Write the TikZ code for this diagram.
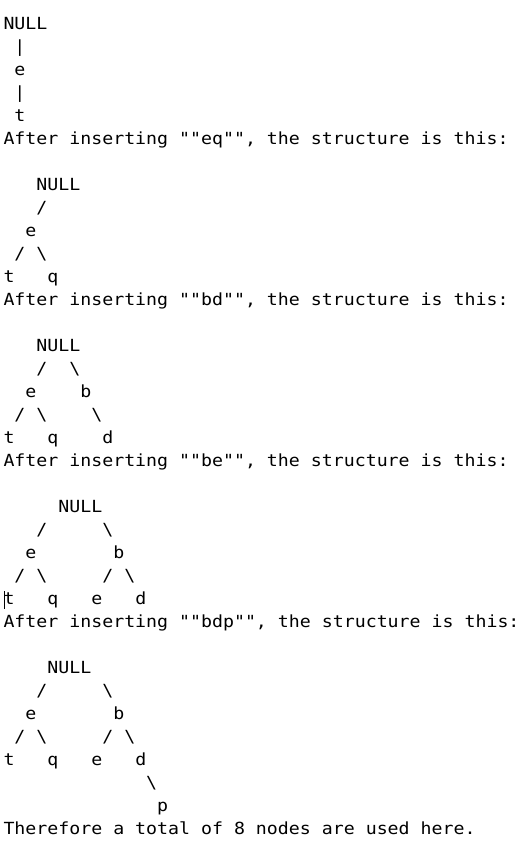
\documentclass[tikz,border=0pt]{standalone}
\usepackage{fontspec}
\newfontfamily\consmono[FakeStretch=1.092,Ligatures=TeXOff]{DejaVu Sans Mono}
\newcommand\tx[4]{\node[txt] (#1) at ({3.5+10.98*#3},{-(29.5+23*#2)}) {#4};}
\newcommand\bs{\textbackslash}
\begin{document}
\begin{tikzpicture}[x=1pt,y=1pt,
  txt/.style={anchor=base west,inner sep=0pt,outer sep=0pt,font=\consmono\fontsize{16.7pt}{20pt}\selectfont\frenchspacing,text=black}]
\useasboundingbox[fill=white] (0,0) rectangle (518,-847);
% block 1
\tx{a0}{0}{0}{NULL}
\tx{a1}{1}{1}{|}
\tx{a2}{2}{1}{e}
\tx{a3}{3}{1}{|}
\tx{a4}{4}{1}{t}
\tx{s1}{5}{0}{After inserting ""eq"", the structure is this:}
% block 2
\tx{b0}{7}{3}{NULL}
\tx{b1}{8}{3}{/}
\tx{b2}{9}{2}{e}
\tx{b3a}{10}{1}{/}
\tx{b3b}{10}{3}{\bs}
\tx{b4a}{11}{0}{t}
\tx{b4b}{11}{4}{q}
\tx{s2}{12}{0}{After inserting ""bd"", the structure is this:}
% block 3
\tx{c0}{14}{3}{NULL}
\tx{c1a}{15}{3}{/}
\tx{c1b}{15}{6}{\bs}
\tx{c2a}{16}{2}{e}
\tx{c2b}{16}{7}{b}
\tx{c3a}{17}{1}{/}
\tx{c3b}{17}{3}{\bs}
\tx{c3c}{17}{8}{\bs}
\tx{c4a}{18}{0}{t}
\tx{c4b}{18}{4}{q}
\tx{c4c}{18}{9}{d}
\tx{s3}{19}{0}{After inserting ""be"", the structure is this:}
% block 4
\tx{d0}{21}{5}{NULL}
\tx{d1a}{22}{3}{/}
\tx{d1b}{22}{9}{\bs}
\tx{d2a}{23}{2}{e}
\tx{d2b}{23}{10}{b}
\tx{d3a}{24}{1}{/}
\tx{d3b}{24}{3}{\bs}
\tx{d3c}{24}{9}{/}
\tx{d3d}{24}{11}{\bs}
\tx{d4a}{25}{0}{t}
\tx{d4b}{25}{4}{q}
\tx{d4c}{25}{8}{e}
\tx{d4d}{25}{12}{d}
\coordinate (cur1) at (4.5,-591);
\coordinate (cur2) at (4.5,-609);
\draw[line width=1pt,black] (cur1) -- (cur2);
\tx{s4}{26}{0}{After inserting ""bdp"", the structure is this:}
% block 5
\tx{e0}{28}{4}{NULL}
\tx{e1a}{29}{3}{/}
\tx{e1b}{29}{9}{\bs}
\tx{e2a}{30}{2}{e}
\tx{e2b}{30}{10}{b}
\tx{e3a}{31}{1}{/}
\tx{e3b}{31}{3}{\bs}
\tx{e3c}{31}{9}{/}
\tx{e3d}{31}{11}{\bs}
\tx{e4a}{32}{0}{t}
\tx{e4b}{32}{4}{q}
\tx{e4c}{32}{8}{e}
\tx{e4d}{32}{12}{d}
\tx{e5}{33}{13}{\bs}
\tx{e6}{34}{14}{p}
\tx{s5}{35}{0}{Therefore a total of 8 nodes are used here.}
\end{tikzpicture}
\end{document}
